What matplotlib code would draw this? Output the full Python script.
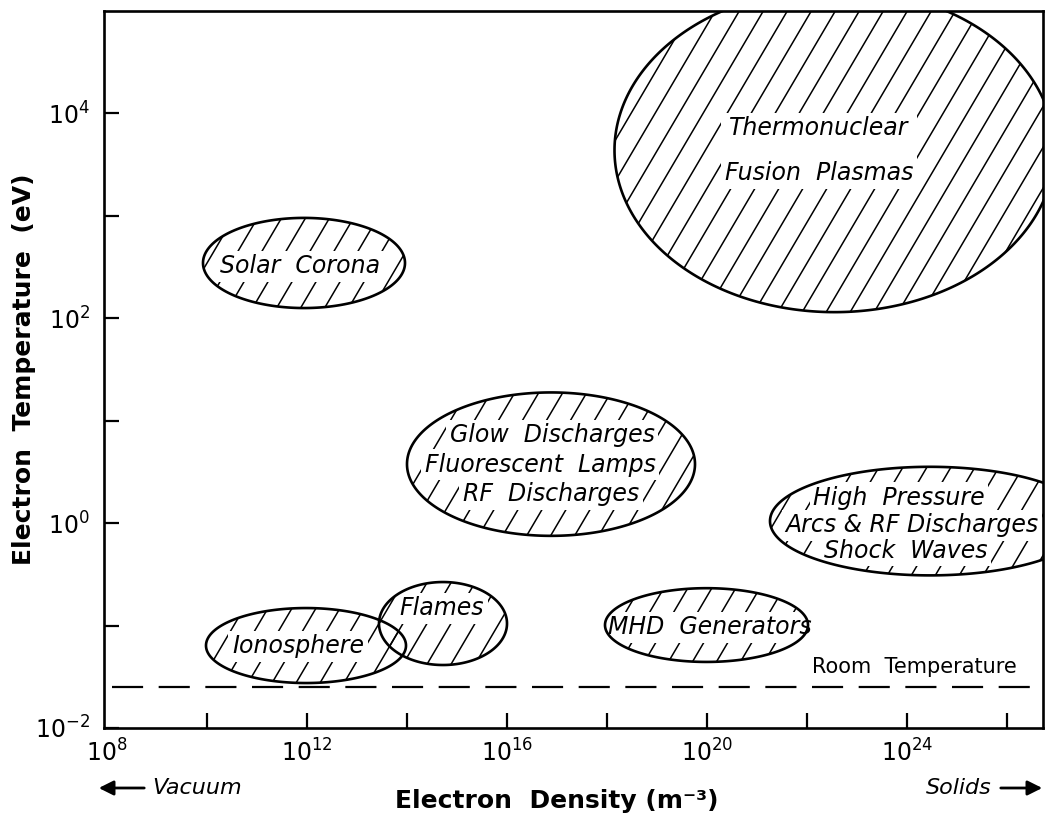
import numpy as np
import matplotlib
matplotlib.use("Agg")
import matplotlib.pyplot as plt
from matplotlib.patches import Polygon
from matplotlib.collections import LineCollection
from matplotlib.ticker import NullLocator

plt.rcParams["font.family"] = ["DejaVu Sans"]
plt.rcParams["mathtext.fontset"] = "custom"
plt.rcParams["mathtext.rm"] = "Liberation Sans"
plt.rcParams["mathtext.it"] = "Liberation Sans:italic"

# ---- data (log10 of electron density [m^-3] and temperature [eV]) ----
region_names = ["Solar Corona", "Thermonuclear Fusion Plasmas", "Glow Discharges",
                "High Pressure Arcs", "MHD Generators", "Flames", "Ionosphere"]
log_n_center = [11.94, 22.55, 16.88, 24.46, 19.99, 14.72, 11.98]
log_n_half = [2.02, 4.40, 2.88, 3.20, 2.03, 1.28, 2.00]
log_T_center = [2.54, 3.64, 0.576, 0.02, -0.995, -0.98, -1.195]
log_T_half = [0.44, 1.58, 0.70, 0.53, 0.36, 0.405, 0.366]

# labels: (text, log_n, log_T) per line
label_lines = [
    [("Solar  Corona", 11.86, 2.51)],
    [("Thermonuclear\nFusion  Plasmas", 22.24, 3.634)],
    [("Glow  Discharges", 16.90, 0.86), ("Fluorescent  Lamps", 16.66, 0.57),
     ("RF  Discharges", 16.88, 0.28)],
    [("High  Pressure", 23.84, 0.25), ("Arcs & RF Discharges", 24.10, -0.02),
     ("Shock  Waves", 23.98, -0.27)],
    [("MHD  Generators", 20.05, -1.015)],
    [("Flames", 14.70, -0.83)],
    [("Ionosphere", 11.82, -1.20)],
]

room_temperature_eV = 0.025
x_tick_exp = [8, 10, 12, 14, 16, 18, 20, 22, 24, 26]
x_label_exp = [8, 12, 16, 20, 24]
y_tick_exp = [-2, -1, 0, 1, 2, 3, 4]
y_label_exp = [-2, 0, 2, 4]

# ---- figure ----
W, H = 1046, 819
fig = plt.figure(figsize=(W / 100, H / 100), dpi=100)
ax = fig.add_axes([104 / W, 1 - 728 / H, (1043 - 104) / W, (728 - 11) / H])
ax.set_xscale("log")
ax.set_yscale("log")
ax.set_xlim(10 ** 7.94, 10 ** 26.72)
ax.set_ylim(1e-2, 1e5)

t = np.linspace(0, 2 * np.pi, 400)
fw, fh = fig.get_size_inches()
spacing = 0.24
slope = 1.7
for cx, a, cy, b in zip(log_n_center, log_n_half, log_T_center, log_T_half):
    xs = 10 ** (cx + a * np.cos(t))
    ys = 10 ** (cy + b * np.sin(t))
    poly = Polygon(np.column_stack([xs, ys]), closed=True, facecolor="none",
                   edgecolor="black", lw=1.9, zorder=4)
    ax.add_patch(poly)
    segs = []
    k0 = -int(fh / slope / spacing) - 2
    k1 = int(fw / spacing) + 2
    for k in range(k0, k1):
        x0 = k * spacing
        segs.append([(x0, 0), (x0 + fh / slope, fh)])
    lc = LineCollection(segs, colors="black", linewidths=1.1,
                        transform=fig.dpi_scale_trans, zorder=2)
    ax.add_collection(lc, autolim=False)
    lc.set_clip_path(poly)
    lc.set_clip_box(ax.bbox)

for lines in label_lines:
    for txt, lx, ly in lines:
        ls = 2.1 if "\n" in txt else 1.2
        ax.text(10 ** lx, 10 ** ly, txt, ha="center", va="center", fontsize=17,
                style="italic", linespacing=ls, zorder=3,
                bbox=dict(facecolor="white", edgecolor="none", pad=2.5))

# room temperature line
ax.plot([10 ** 8.1, 10 ** 26.72], [room_temperature_eV, room_temperature_eV],
        color="black", lw=1.6, dashes=(14, 7), zorder=2)
ax.text(10 ** 24.14, 10 ** -1.40, "Room  Temperature", ha="center", va="center",
        fontsize=15)

# ticks
ax.set_xticks([10.0 ** e for e in x_tick_exp])
ax.set_xticklabels([rf"$\mathregular{{10^{{{e}}}}}$" if e in x_label_exp else ""
                    for e in x_tick_exp])
ax.set_yticks([10.0 ** e for e in y_tick_exp])
ax.set_yticklabels([rf"$\mathregular{{10^{{{e}}}}}$" if e in y_label_exp else ""
                    for e in y_tick_exp])
ax.xaxis.set_minor_locator(NullLocator())
ax.yaxis.set_minor_locator(NullLocator())
ax.tick_params(direction="in", length=11, width=1.6, labelsize=17, top=False,
               right=False)
ax.tick_params(axis="x", pad=8)
ax.tick_params(axis="y", pad=10)
ax.xaxis.get_major_ticks()[0].tick1line.set_visible(False)
for s in ax.spines.values():
    s.set_linewidth(1.9)

ax.set_xlabel("Electron  Density (m\u207b\u00b3)", fontsize=18, fontweight="bold")
ax.xaxis.set_label_coords(0.482, -0.085)
ax.set_ylabel("Electron  Temperature  (eV)", fontsize=18, fontweight="bold")
ax.yaxis.set_label_coords(-0.072, 0.5)

# vacuum / solids arrows
def fp(x, y):
    return (x / W, 1 - y / H)

fig.text(*fp(152, 788), "Vacuum", ha="left", va="center", fontsize=16, style="italic")
ax.annotate("", xy=fp(96, 788), xytext=fp(147, 788), xycoords="figure fraction",
            textcoords="figure fraction",
            arrowprops=dict(arrowstyle="-|>", lw=2, color="black", mutation_scale=22))
fig.text(*fp(992, 788), "Solids", ha="right", va="center", fontsize=16, style="italic")
ax.annotate("", xy=fp(1045, 788), xytext=fp(998, 788), xycoords="figure fraction",
            textcoords="figure fraction",
            arrowprops=dict(arrowstyle="-|>", lw=2, color="black", mutation_scale=22))

fig.savefig("out.png", dpi=100)
